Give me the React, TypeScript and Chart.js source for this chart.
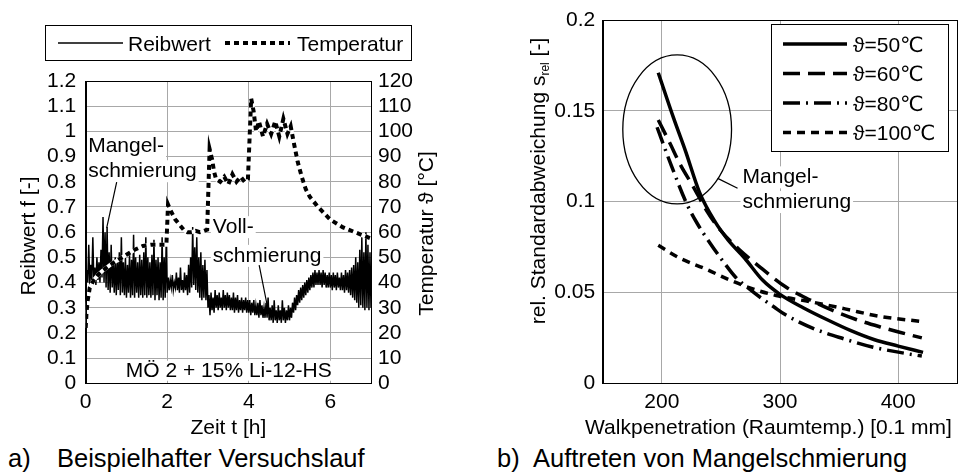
import React, { useEffect, useRef } from 'react';
import { Chart, registerables } from 'chart.js';

Chart.register(...registerables);

const FONT = "'Liberation Sans', Arial, 'DejaVu Sans', sans-serif";
const TXT = 21;
const GRID = '#a8a8a8';

// ---------------- a) Beispielhafter Versuchslauf ----------------
const TIME_STEP_H = 0.025; // sampling grid of the friction record
const REIBWERT = [
  0.38, 0.45, 0.40, 0.55, 0.39, 0.47, 0.41, 0.58, 0.40, 0.46,
  0.39, 0.50, 0.41, 0.48, 0.40, 0.53, 0.42, 0.66, 0.40, 0.60,
  0.38, 0.62, 0.37, 0.52, 0.36, 0.55, 0.38, 0.48, 0.36, 0.50,
  0.35, 0.49, 0.37, 0.52, 0.35, 0.58, 0.36, 0.48, 0.35, 0.50,
  0.34, 0.47, 0.36, 0.51, 0.34, 0.49, 0.35, 0.59, 0.34, 0.50,
  0.36, 0.48, 0.34, 0.51, 0.35, 0.49, 0.34, 0.52, 0.35, 0.58,
  0.34, 0.50, 0.35, 0.48, 0.34, 0.51, 0.35, 0.57, 0.33, 0.49,
  0.35, 0.50, 0.33, 0.48, 0.34, 0.58, 0.33, 0.50, 0.34, 0.56,
  0.36, 0.42, 0.37, 0.41, 0.38, 0.43, 0.37, 0.40, 0.38, 0.44,
  0.37, 0.42, 0.36, 0.46, 0.37, 0.41, 0.36, 0.44, 0.37, 0.43,
  0.35, 0.47, 0.36, 0.50, 0.38, 0.62, 0.39, 0.54, 0.37, 0.58,
  0.36, 0.50, 0.34, 0.52, 0.33, 0.47, 0.34, 0.49, 0.33, 0.45,
  0.30, 0.35, 0.27, 0.36, 0.29, 0.34, 0.28, 0.37, 0.30, 0.35,
  0.29, 0.36, 0.30, 0.34, 0.29, 0.37, 0.30, 0.35, 0.29, 0.36,
  0.30, 0.35, 0.29, 0.34, 0.29, 0.36, 0.28, 0.34, 0.29, 0.35,
  0.28, 0.33, 0.29, 0.34, 0.28, 0.33, 0.29, 0.34, 0.28, 0.33,
  0.28, 0.33, 0.27, 0.32, 0.28, 0.33, 0.27, 0.31, 0.27, 0.32,
  0.26, 0.33, 0.27, 0.31, 0.26, 0.30, 0.26, 0.32, 0.26, 0.34,
  0.25, 0.30, 0.25, 0.31, 0.24, 0.33, 0.25, 0.29, 0.24, 0.31,
  0.25, 0.29, 0.24, 0.33, 0.25, 0.30, 0.24, 0.29, 0.25, 0.31,
  0.25, 0.30, 0.26, 0.32, 0.28, 0.34, 0.29, 0.35, 0.31, 0.37,
  0.32, 0.38, 0.33, 0.39, 0.34, 0.40, 0.35, 0.41, 0.36, 0.42,
  0.37, 0.43, 0.38, 0.44, 0.38, 0.45, 0.39, 0.44, 0.39, 0.45,
  0.39, 0.44, 0.38, 0.45, 0.39, 0.44, 0.38, 0.43, 0.38, 0.44,
  0.38, 0.43, 0.37, 0.44, 0.38, 0.43, 0.37, 0.44, 0.38, 0.42,
  0.37, 0.44, 0.37, 0.43, 0.36, 0.45, 0.37, 0.44, 0.36, 0.45,
  0.35, 0.46, 0.34, 0.47, 0.33, 0.50, 0.32, 0.48, 0.30, 0.53,
  0.31, 0.58, 0.30, 0.52, 0.29, 0.60, 0.30, 0.55, 0.29, 0.52,
  0.30,
];
const TEMP_TIME_H = [
  0, 0.02, 0.05, 0.1, 0.2, 0.3, 0.4, 0.6, 0.8, 1.0, 1.2, 1.4, 1.6, 1.8, 1.98,
  2.02, 2.1, 2.2, 2.3, 2.4, 2.5, 2.6, 2.7, 2.8, 2.9, 2.98,
  3.04, 3.1, 3.15, 3.2, 3.3, 3.4, 3.5, 3.6, 3.7, 3.8, 3.9, 3.98,
  4.06, 4.12, 4.18, 4.25, 4.35, 4.45, 4.55, 4.65, 4.75, 4.85, 4.95, 5.03,
  5.1, 5.2, 5.3, 5.4, 5.5, 5.7, 6.0, 6.3, 6.6, 7.0,
];
const TEMP_DEG_C = [
  22, 28, 33, 38, 41, 43, 44.5, 47, 49, 51, 53, 54.5, 55, 55, 55,
  71, 68, 65, 63, 61, 60, 60, 60.5, 60, 60.5, 61,
  93, 89, 84, 81, 80, 82, 79, 83, 80, 82, 80, 81,
  113, 108, 100, 104, 98, 103, 99, 104, 98, 105, 99, 102,
  96, 88, 82, 77, 74, 70, 65, 62, 60, 57.5,
];
const TIME_TICKS = [0, 2, 4, 6];
const REIB_TICKS = [0, 0.1, 0.2, 0.3, 0.4, 0.5, 0.6, 0.7, 0.8, 0.9, 1, 1.1, 1.2];
const TEMP_TICKS = [0, 10, 20, 30, 40, 50, 60, 70, 80, 90, 100, 110, 120];
const LEFT_LABELS = ['Reibwert', 'Temperatur'];

// ---------------- b) Auftreten von Mangelschmierung ----------------
const PEN_TICKS = [200, 300, 400];
const SREL_TICKS = [0, 0.05, 0.1, 0.15, 0.2];
const SERIES_LABELS = ['ϑ=50℃', 'ϑ=60℃', 'ϑ=80℃', 'ϑ=100℃'];
const PEN_50 = [197, 210, 220, 232, 245, 256, 270, 285, 300, 320, 340, 360, 380, 400, 421];
const SREL_50 = [0.171, 0.146, 0.128, 0.105, 0.089, 0.079, 0.069, 0.057, 0.049, 0.0415, 0.035, 0.029, 0.024, 0.0205, 0.017];
const PEN_60 = [197, 207, 216, 226, 238, 250, 265, 285, 305, 325, 345, 365, 385, 402, 420];
const SREL_60 = [0.145, 0.132, 0.120, 0.109, 0.095, 0.084, 0.074, 0.063, 0.053, 0.046, 0.040, 0.035, 0.031, 0.028, 0.025];
const PEN_80 = [196, 208, 221, 230, 240, 252, 263, 274, 284, 295, 304, 329, 354, 378, 405, 420];
const SREL_80 = [0.141, 0.120, 0.099, 0.088, 0.078, 0.067, 0.058, 0.052, 0.047, 0.042, 0.038, 0.030, 0.0245, 0.020, 0.0166, 0.015];
const PEN_100 = [197, 215, 237, 257, 277, 299, 325, 355, 383, 420];
const SREL_100 = [0.076, 0.069, 0.063, 0.057, 0.052, 0.048, 0.045, 0.041, 0.037, 0.034];

const setTicks = (vals: number[]) => (scale: any) => {
  scale.ticks = vals.map((v) => ({ value: v }));
};

const tickFont = { family: FONT, size: TXT };

function textBox(ctx: CanvasRenderingContext2D, text: string, x: number, y: number, center = false, up = 17, down = 5) {
  const w = ctx.measureText(text).width;
  const left = center ? x - w / 2 : x;
  ctx.fillStyle = '#fff';
  ctx.fillRect(left - 2, y - up, w + 4, up + down);
  ctx.fillStyle = '#000';
  ctx.textAlign = 'left';
  ctx.textBaseline = 'alphabetic';
  ctx.fillText(text, left, y);
}

const leftDecor = {
  id: 'leftDecor',
  beforeDatasetsDraw(chart: any) {
    const ctx = chart.ctx as CanvasRenderingContext2D;
    const sx = chart.scales.x, sy = chart.scales.y;
    ctx.save();
    ctx.font = `${TXT}px ${FONT}`;
    textBox(ctx, 'Mangel-', sx.getPixelForValue(0.06), sy.getPixelForValue(0.917));
    textBox(ctx, 'schmierung', sx.getPixelForValue(0.06), sy.getPixelForValue(0.818));
    textBox(ctx, 'Voll-', sx.getPixelForValue(3.12), sy.getPixelForValue(0.596));
    textBox(ctx, 'schmierung', sx.getPixelForValue(3.12), sy.getPixelForValue(0.482));
    textBox(ctx, 'MÖ 2 + 15% Li-12-HS', sx.getPixelForValue(3.51), sy.getPixelForValue(0.026), true, 16, 4);
    ctx.restore();
  },
  afterDatasetsDraw(chart: any) {
    const ctx = chart.ctx as CanvasRenderingContext2D;
    const sx = chart.scales.x, sy = chart.scales.y;
    ctx.save();
    ctx.strokeStyle = '#000';
    ctx.lineWidth = 1.2;
    ctx.beginPath();
    ctx.moveTo(sx.getPixelForValue(0.76), sy.getPixelForValue(0.799));
    ctx.lineTo(sx.getPixelForValue(0.515), sy.getPixelForValue(0.617));
    ctx.moveTo(sx.getPixelForValue(4.256), sy.getPixelForValue(0.469));
    ctx.lineTo(sx.getPixelForValue(4.477), sy.getPixelForValue(0.29));
    ctx.stroke();
    ctx.restore();
  },
  afterDraw(chart: any) {
    const ctx = chart.ctx as CanvasRenderingContext2D;
    const a = chart.chartArea;
    ctx.save();
    ctx.strokeStyle = '#000';
    ctx.lineWidth = 1;
    ctx.strokeRect(Math.round(a.left) + 0.5, Math.round(a.top) + 0.5, Math.round(a.right) - Math.round(a.left), Math.round(a.bottom) - Math.round(a.top));
    // legend
    ctx.fillStyle = '#fff';
    ctx.fillRect(45, 25, 366, 35);
    ctx.strokeRect(45.5, 25.5, 366, 35);
    const ly = 43;
    ctx.beginPath();
    ctx.lineWidth = 1.5;
    ctx.moveTo(58, ly);
    ctx.lineTo(123, ly);
    ctx.stroke();
    ctx.beginPath();
    ctx.lineWidth = 4;
    ctx.setLineDash([5, 4]);
    ctx.moveTo(225, ly);
    ctx.lineTo(290, ly);
    ctx.stroke();
    ctx.setLineDash([]);
    ctx.fillStyle = '#000';
    ctx.font = `${TXT}px ${FONT}`;
    ctx.textAlign = 'left';
    ctx.textBaseline = 'alphabetic';
    ctx.fillText(LEFT_LABELS[0], 128, ly + 7.5);
    ctx.fillText(LEFT_LABELS[1], 297, ly + 7.5);
    // axis titles
    ctx.textAlign = 'center';
    ctx.fillText('Zeit t [h]', (a.left + a.right) / 2, 434);
    ctx.save();
    ctx.translate(35, 236);
    ctx.rotate(-Math.PI / 2);
    ctx.fillText('Reibwert f [-]', 0, 0);
    ctx.restore();
    ctx.save();
    ctx.translate(433, 233.5);
    ctx.rotate(-Math.PI / 2);
    ctx.fillText('Temperatur ϑ [°C]', 0, 0);
    ctx.restore();
    ctx.restore();
  },
};

const rightDecor = {
  id: 'rightDecor',
  beforeDatasetsDraw(chart: any) {
    const ctx = chart.ctx as CanvasRenderingContext2D;
    const sx = chart.scales.x, sy = chart.scales.y;
    ctx.save();
    ctx.font = `${TXT}px ${FONT}`;
    textBox(ctx, 'Mangel-', sx.getPixelForValue(268.3), sy.getPixelForValue(0.1101));
    textBox(ctx, 'schmierung', sx.getPixelForValue(268.3), sy.getPixelForValue(0.0965));
    ctx.restore();
  },
  afterDatasetsDraw(chart: any) {
    const ctx = chart.ctx as CanvasRenderingContext2D;
    const sx = chart.scales.x, sy = chart.scales.y;
    ctx.save();
    ctx.strokeStyle = '#000';
    ctx.lineWidth = 1.3;
    const cx = sx.getPixelForValue(213), cy = sy.getPixelForValue(0.1398);
    const rx = sx.getPixelForValue(213 + 46) - cx;
    const ry = cy - sy.getPixelForValue(0.1398 + 0.041);
    ctx.beginPath();
    ctx.ellipse(cx, cy, rx, ry, 0, 0, Math.PI * 2);
    ctx.stroke();
    ctx.beginPath();
    ctx.moveTo(sx.getPixelForValue(247.3), sy.getPixelForValue(0.1128));
    ctx.lineTo(sx.getPixelForValue(264.1), sy.getPixelForValue(0.1074));
    ctx.stroke();
    ctx.restore();
  },
  afterDraw(chart: any) {
    const ctx = chart.ctx as CanvasRenderingContext2D;
    const a = chart.chartArea;
    ctx.save();
    ctx.strokeStyle = '#000';
    ctx.lineWidth = 1;
    ctx.strokeRect(Math.round(a.left) + 0.5, Math.round(a.top) + 0.5, Math.round(a.right) - Math.round(a.left), Math.round(a.bottom) - Math.round(a.top));
    // legend
    ctx.fillStyle = '#fff';
    ctx.fillRect(291, 24, 177, 127);
    ctx.strokeRect(291.5, 24.5, 177, 127);
    const rows = [44, 73.5, 103, 132.5];
    ctx.font = `${TXT}px ${FONT}`;
    ctx.textAlign = 'left';
    ctx.textBaseline = 'alphabetic';
    chart.data.datasets.forEach((ds: any, i: number) => {
      ctx.beginPath();
      ctx.lineWidth = ds.borderWidth;
      ctx.setLineDash(ds.borderDash || []);
      ctx.moveTo(303, rows[i]);
      ctx.lineTo(367, rows[i]);
      ctx.stroke();
      ctx.setLineDash([]);
      ctx.fillStyle = '#000';
      ctx.fillText(ds.label, 373, rows[i] + 7.5);
    });
    // axis titles
    ctx.textAlign = 'center';
    ctx.fillText('Walkpenetration (Raumtemp.) [0.1 mm]', 288.5, 434);
    ctx.save();
    ctx.translate(65, 181);
    ctx.rotate(-Math.PI / 2);
    const p1 = 'rel. Standardabweichung s', p2 = 'rel', p3 = ' [-]';
    ctx.font = `${TXT}px ${FONT}`;
    const w1 = ctx.measureText(p1).width, w3 = ctx.measureText(p3).width;
    ctx.font = `12px ${FONT}`;
    const w2 = ctx.measureText(p2).width;
    const x0 = -(w1 + w2 + w3) / 2;
    ctx.textAlign = 'left';
    ctx.font = `${TXT}px ${FONT}`;
    ctx.fillText(p1, x0, 0);
    ctx.font = `12px ${FONT}`;
    ctx.fillText(p2, x0 + w1, 4);
    ctx.font = `${TXT}px ${FONT}`;
    ctx.fillText(p3, x0 + w1 + w2, 0);
    ctx.restore();
    ctx.restore();
  },
};

function axisBase(extra: any) {
  return {
    grid: { color: GRID, lineWidth: 1, drawTicks: false },
    border: { display: true, color: '#000', width: 1 },
    ...extra,
  };
}

function leftConfig(): any {
  const reibPts = REIBWERT.map((f, i) => ({ x: i * TIME_STEP_H, y: f }));
  const tempPts = TEMP_TIME_H.map((t, i) => ({ x: t, y: TEMP_DEG_C[i] }));
  return {
    type: 'line',
    data: {
      datasets: [
        { label: LEFT_LABELS[1], data: tempPts, yAxisID: 'y1', borderColor: '#000', borderWidth: 4, borderDash: [5, 4], pointRadius: 0, tension: 0, order: 0 },
        { label: 'bg', data: tempPts, yAxisID: 'y1', borderColor: '#fff', borderWidth: 4, pointRadius: 0, tension: 0, order: 1 },
        { label: LEFT_LABELS[0], data: reibPts, yAxisID: 'y', borderColor: '#000', borderWidth: 1.5, pointRadius: 0, tension: 0, order: 2 },
      ],
    },
    options: {
      responsive: false,
      animation: false,
      devicePixelRatio: 1,
      events: [],
      layout: { padding: { top: 81, left: 0, right: 0, bottom: 0 } },
      plugins: { legend: { display: false }, tooltip: { enabled: false } },
      scales: {
        x: axisBase({
          type: 'linear', position: 'bottom', min: 0, max: 7,
          afterBuildTicks: setTicks(TIME_TICKS),
          afterFit: (s: any) => { s.height = 56.7; },
          ticks: { font: tickFont, color: '#000', padding: 6, autoSkip: false, maxRotation: 0, callback: (v: number) => String(v) },
        }),
        y: axisBase({
          type: 'linear', position: 'left', min: 0, max: 1.2,
          afterBuildTicks: setTicks(REIB_TICKS),
          afterFit: (s: any) => { s.width = 85.7; },
          ticks: { font: tickFont, color: '#000', padding: 9.5, autoSkip: false, callback: (v: number) => String(v) },
        }),
        y1: axisBase({
          type: 'linear', position: 'right', min: 0, max: 120,
          grid: { display: false, drawTicks: false },
          afterBuildTicks: setTicks(TEMP_TICKS),
          afterFit: (s: any) => { s.width = 109; },
          ticks: { font: tickFont, color: '#000', padding: 7, autoSkip: false, callback: (v: number) => String(v) },
        }),
      },
    },
    plugins: [leftDecor],
  };
}

function rightConfig(): any {
  const pts = (xs: number[], ys: number[]) => xs.map((x, i) => ({ x, y: ys[i] }));
  const common = { borderColor: '#000', borderWidth: 3.5, pointRadius: 0, tension: 0.4, cubicInterpolationMode: 'monotone', fill: false };
  return {
    type: 'line',
    data: {
      datasets: [
        { ...common, label: SERIES_LABELS[0], data: pts(PEN_50, SREL_50), borderDash: [] },
        { ...common, label: SERIES_LABELS[1], data: pts(PEN_60, SREL_60), borderDash: [17, 8] },
        { ...common, label: SERIES_LABELS[2], data: pts(PEN_80, SREL_80), borderDash: [17, 6, 2, 6] },
        { ...common, label: SERIES_LABELS[3], data: pts(PEN_100, SREL_100), borderDash: [8, 6] },
      ],
    },
    options: {
      responsive: false,
      animation: false,
      devicePixelRatio: 1,
      events: [],
      layout: { padding: { top: 14, left: 0, right: 7.7, bottom: 0 } },
      plugins: { legend: { display: false }, tooltip: { enabled: false } },
      scales: {
        x: axisBase({
          type: 'linear', position: 'bottom', min: 150, max: 450,
          afterBuildTicks: setTicks(PEN_TICKS),
          afterFit: (s: any) => { s.height = 56.7; },
          ticks: { font: tickFont, color: '#000', padding: 6, autoSkip: false, maxRotation: 0, callback: (v: number) => String(v) },
        }),
        y: axisBase({
          type: 'linear', position: 'left', min: 0, max: 0.2,
          afterBuildTicks: setTicks(SREL_TICKS),
          afterFit: (s: any) => { s.width = 122.7; },
          ticks: { font: tickFont, color: '#000', padding: 7.5, autoSkip: false, callback: (v: number) => String(v) },
        }),
      },
    },
    plugins: [rightDecor],
  };
}

export default function App() {
  const leftRef = useRef<HTMLCanvasElement>(null);
  const rightRef = useRef<HTMLCanvasElement>(null);
  useEffect(() => {
    const l = new Chart(leftRef.current as HTMLCanvasElement, leftConfig());
    const r = new Chart(rightRef.current as HTMLCanvasElement, rightConfig());
    return () => {
      l.destroy();
      r.destroy();
    };
  }, []);
  const cap: React.CSSProperties = { position: 'absolute', top: 445, fontSize: 25.5, lineHeight: '26px', whiteSpace: 'nowrap', color: '#000' };
  return (
    <div style={{ position: 'absolute', left: 0, top: 0, width: 965, height: 474, background: '#fff', overflow: 'hidden', fontFamily: FONT }}>
      <canvas ref={leftRef} width={480} height={440} style={{ position: 'absolute', left: 0, top: 0, width: 480, height: 440 }} />
      <canvas ref={rightRef} width={485} height={440} style={{ position: 'absolute', left: 480, top: 0, width: 485, height: 440 }} />
      <div style={{ ...cap, left: 8 }}>a)</div>
      <div style={{ ...cap, left: 57 }}>Beispielhafter Versuchslauf</div>
      <div style={{ ...cap, left: 497 }}>b)</div>
      <div style={{ ...cap, left: 533 }}>Auftreten von Mangelschmierung</div>
    </div>
  );
}
